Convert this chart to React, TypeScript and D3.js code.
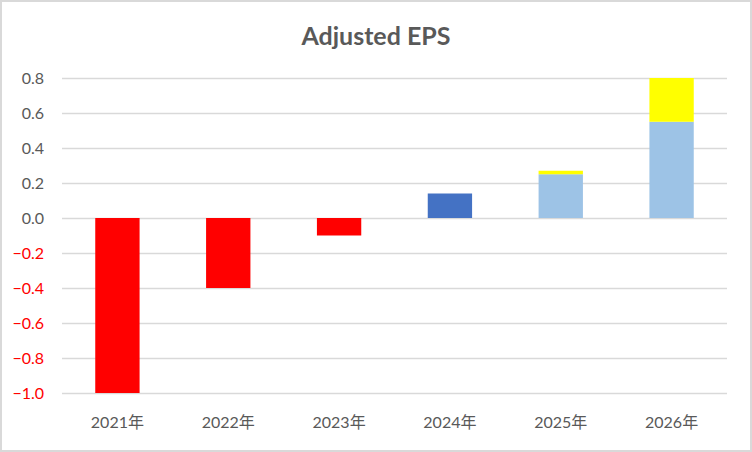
import * as d3 from 'd3';
import React, { useEffect, useRef } from 'react';

const years = ['2021年', '2022年', '2023年', '2024年', '2025年', '2026年'];
const actual = [-1.0, -0.4, -0.1, 0.14, 0, 0];
const estimate = [0, 0, 0, 0, 0.25, 0.55];
const upside = [0, 0, 0, 0, 0.02, 0.25];
const yTicks = [0.8, 0.6, 0.4, 0.2, 0.0, -0.2, -0.4, -0.6, -0.8, -1.0];

const seriesKeys = ['actual', 'estimate', 'upside'] as const;
const seriesColors: Record<string, string> = {
	actual: '#4472C4',
	estimate: '#9DC3E6',
	upside: '#FFFF00',
};
const negativeColor = '#FF0000';

const App = (): React.JSX.Element => {
	const ref = useRef<SVGSVGElement | null>(null);

	useEffect(() => {
		if (ref.current === null) return;
		d3.select(ref.current).selectAll('*').remove();

		const width = 752;
		const height = 452;
		const margin = { top: 78, right: 25, bottom: 59, left: 62 };

		const svg = d3.select(ref.current)
			.attr('width', width)
			.attr('height', height);

		svg.append('rect')
			.attr('x', 1)
			.attr('y', 1)
			.attr('width', width - 2)
			.attr('height', height - 2)
			.attr('fill', '#FFFFFF')
			.attr('stroke', '#D9D9D9')
			.attr('stroke-width', 2);

		const rows = years.map((year, i) => ({
			year,
			actual: actual[i],
			estimate: estimate[i],
			upside: upside[i],
		}));

		const xScale = d3.scaleBand()
			.domain(years)
			.range([margin.left, width - margin.right])
			.paddingInner(0.6)
			.paddingOuter(0.3);

		const yScale = d3.scaleLinear()
			.domain([-1.0, 0.8])
			.range([height - margin.bottom, margin.top]);

		// gridlines
		svg.append('g')
			.selectAll('line')
			.data(yTicks)
			.enter()
			.append('line')
			.attr('x1', margin.left)
			.attr('x2', width - margin.right)
			.attr('y1', (d) => Math.round(yScale(d)) + 0.5)
			.attr('y2', (d) => Math.round(yScale(d)) + 0.5)
			.attr('stroke', '#D9D9D9')
			.attr('stroke-width', 1.5);

		const stacked = d3.stack<typeof rows[number]>()
			.keys(seriesKeys as unknown as string[])
			.offset(d3.stackOffsetDiverging)(rows);

		svg.append('g')
			.selectAll('g')
			.data(stacked)
			.enter()
			.append('g')
			.selectAll('rect')
			.data((layer) => layer.map((d) => ({ key: layer.key, d })))
			.enter()
			.append('rect')
			.attr('x', (p) => xScale(p.d.data.year) ?? 0)
			.attr('width', xScale.bandwidth())
			.attr('y', (p) => yScale(Math.max(p.d[0], p.d[1])))
			.attr('height', (p) => Math.abs(yScale(p.d[0]) - yScale(p.d[1])))
			.attr('fill', (p) => (p.d[0] < 0 ? negativeColor : seriesColors[p.key]));

		// y axis labels
		svg.append('g')
			.selectAll('text')
			.data(yTicks)
			.enter()
			.append('text')
			.attr('x', 44)
			.attr('y', (d) => yScale(d))
			.attr('dy', '0.36em')
			.attr('text-anchor', 'end')
			.attr('font-family', 'Lato, sans-serif')
			.attr('font-size', 16)
			.attr('fill', (d) => (d < 0 ? '#FF0000' : '#595959'))
			.text((d) => d3.format('.1f')(d));

		// x axis labels
		svg.append('g')
			.selectAll('text')
			.data(years)
			.enter()
			.append('text')
			.attr('x', (d) => (xScale(d) ?? 0) + xScale.bandwidth() / 2)
			.attr('y', 428)
			.attr('text-anchor', 'middle')
			.attr('font-family', 'Lato, "Noto Sans CJK JP", sans-serif')
			.attr('font-size', 16)
			.attr('fill', '#595959')
			.text((d) => d);

		svg.append('text')
			.attr('x', width / 2)
			.attr('y', 45)
			.attr('text-anchor', 'middle')
			.attr('font-family', 'Lato, sans-serif')
			.attr('font-weight', 'bold')
			.attr('font-size', 25)
			.attr('fill', '#595959')
			.text('Adjusted EPS');
	}, []);

	return (
		<svg ref={ref} style={{ position: 'absolute', left: 0, top: 0, display: 'block' }} />
	);
};

export default App;
